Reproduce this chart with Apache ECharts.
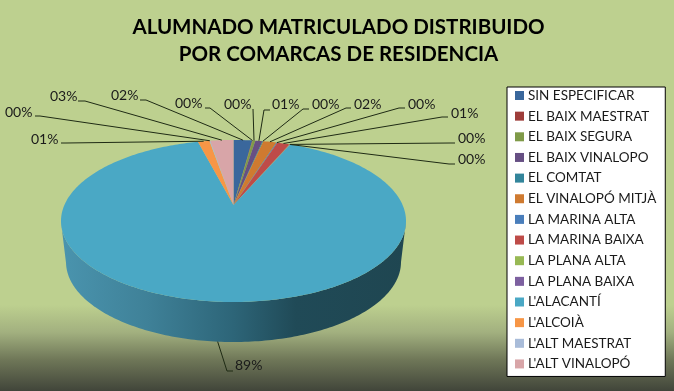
<!DOCTYPE html>
<html>
<head>
<meta charset="utf-8">
<style>
  html, body { margin: 0; padding: 0; }
  #chart { width: 674px; height: 391px; }
</style>
<script src="https://cdn.jsdelivr.net/npm/echarts@6/dist/echarts.min.js"></script>
</head>
<body>
<div id="chart"></div>
<script>
var categories = ['SIN ESPECIFICAR', 'EL BAIX MAESTRAT', 'EL BAIX SEGURA', 'EL BAIX VINALOPO', 'EL COMTAT',
  'EL VINALOPÓ MITJÀ', 'LA MARINA ALTA', 'LA MARINA BAIXA', 'LA PLANA ALTA', 'LA PLANA BAIXA',
  "L'ALACANTÍ", "L'ALCOIÀ", "L'ALT MAESTRAT", "L'ALT VINALOPÓ"]
var percents = [2.1, 0.05, 0.3, 0.8, 0.1, 1.5, 0.1, 1.4, 0.05, 0.05, 88.8, 1.3, 0.1, 2.6]
var colors = ['#3A679C', '#9E3D3A', '#7F9A48', '#664F83', '#33859B', '#CF7A30', '#4A7EBB', '#BE4B48',
  '#98B954', '#7D60A0', '#4AA8C5', '#F79646', '#A9BCD9', '#D8A5A8']

// label text x, y, then leader start x, y and elbow x
var labelLayout = [
  [111, 95, 140, 100, 146], [175, 103, 205, 108, 210], [224, 104, 253, 109, 253], [272, 104, 270, 110, 264],
  [312, 104, 309, 109, 303], [354, 104, 351, 108, 346], [408, 104, 405, 108, 399], [451, 113, 448, 117, 442],
  [458, 138, 455, 143, 450], [458, 159, 455, 164, 449], [235, 365, 233, 371, 227], [31, 139, 61, 143, 66],
  [5, 112, 35, 116, 40], [50, 96, 78, 101, 85]
]

var total = percents.reduce(function (a, b) { return a + b }, 0)

// pie disc in perspective: the apex sits above the centre of the rim ellipse
var apexX = 233.5
var apexY = 205
var persp = -0.1975
var liftY = 37.35
var scaleX = 169.1
var wallRatioX = 0.971
var wallRatioY = 0.988
var rimCenterY = 221
var wallCenterY = 262

function rim (angle) {
  var x = Math.sin(angle)
  var y = -Math.cos(angle)
  var d = 1 + persp * y
  return [apexX + scaleX * x / d, (apexY + liftY * y) / d]
}

function wallPoint (p) {
  return [apexX + (p[0] - apexX) * wallRatioX, wallCenterY + (p[1] - rimCenterY) * wallRatioY]
}

function isFront (angle) {
  return -Math.cos(angle) >= -persp
}

function angleAt (share) {
  return share / total * Math.PI * 2
}

function sliceAngles (i) {
  var start = 0
  for (var k = 0; k < i; k++) start += percents[k]
  return [angleAt(start), angleAt(start + percents[i])]
}

function renderSlice (i, value) {
  var range = sliceAngles(i)
  var steps = Math.max(2, Math.ceil((range[1] - range[0]) * 60))
  var top = [[apexX, apexY]]
  var front = []
  for (var s = 0; s <= steps; s++) {
    var a = range[0] + (range[1] - range[0]) * s / steps
    var p = rim(a)
    top.push(p)
    if (isFront(a)) front.push(p)
  }
  var children = []
  if (front.length > 1) {
    var wall = front.concat(front.map(wallPoint).reverse())
    children.push({
      type: 'polygon',
      shape: { points: wall },
      z2: 1,
      style: {
        fill: new echarts.graphic.LinearGradient(61, 0, 406, 0, [
          { offset: 0, color: '#4A94AE' },
          { offset: 0.25, color: '#3F8198' },
          { offset: 0.5, color: '#2D6578' },
          { offset: 0.68, color: '#204A57' },
          { offset: 1, color: '#1F4651' }
        ], true)
      }
    })
  }
  children.push({ type: 'polygon', shape: { points: top }, z2: 2, style: { fill: colors[i] } })

  var mid = (range[0] + range[1]) / 2
  var end = rim(mid)
  if (isFront(mid)) end = wallPoint(end)
  var l = labelLayout[i]
  children.push({
    type: 'polyline',
    shape: { points: [[l[2], l[3]], [l[4], l[3]], end] },
    z2: 5,
    style: { fill: null, stroke: '#1E2A14', lineWidth: 1 }
  })
  children.push({
    type: 'text',
    x: l[0],
    y: l[1],
    z2: 6,
    style: {
      text: String(Math.round(value)).padStart(2, '0') + '%',
      fill: '#1A1A1A',
      font: '14px Lato',
      verticalAlign: 'middle'
    }
  })
  return { type: 'group', children: children }
}

var chart = echarts.init(document.getElementById('chart'))
chart.setOption({
  animation: false,
  backgroundColor: new echarts.graphic.LinearGradient(0, 0, 0, 1, [
    { offset: 0, color: '#BDD08F' },
    { offset: 0.78, color: '#BDD08F' },
    { offset: 0.85, color: '#A2B07F' },
    { offset: 0.92, color: '#6F7758' },
    { offset: 1, color: '#41453A' }
  ]),
  title: {
    text: 'ALUMNADO MATRICULADO DISTRIBUIDO\nPOR COMARCAS DE RESIDENCIA',
    left: 333.5,
    top: 9,
    textAlign: 'center',
    textStyle: { fontFamily: 'Lato', fontSize: 20.5, fontWeight: 'bold', color: '#000', lineHeight: 27 }
  },
  legend: {
    orient: 'vertical',
    left: 507,
    top: 87,
    padding: [1.5, 9, 5.5, 8],
    selectedMode: false,
    icon: 'rect',
    itemWidth: 9,
    itemHeight: 9,
    itemGap: 6.65,
    backgroundColor: '#fff',
    borderColor: '#000',
    borderWidth: 1,
    textStyle: { fontFamily: 'Lato', fontSize: 13.5, color: '#1A1A1A', padding: [0, 0, 0, -1] },
    data: categories
  },
  series: categories.map(function (name, i) {
    return {
      type: 'custom',
      name: name,
      coordinateSystem: 'none',
      itemStyle: { color: colors[i] },
      data: [[percents[i]]],
      renderItem: function (params, api) {
        return renderSlice(i, api.value(0))
      }
    }
  })
})
</script>
</body>
</html>
